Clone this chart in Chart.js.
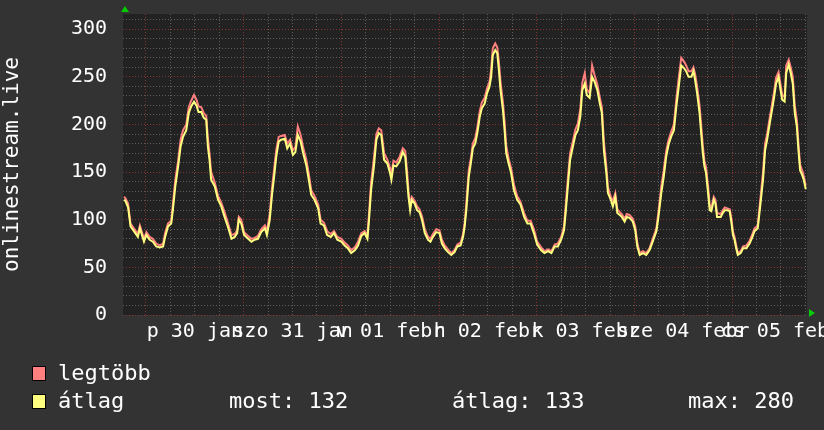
<!DOCTYPE html>
<html><head><meta charset="utf-8">
<script src="https://cdn.jsdelivr.net/npm/chart.js@4"></script>
<style>
html,body{margin:0;padding:0;background:#333333;}
#wrap{position:relative;width:824px;height:430px;overflow:hidden;background:#333333;}
canvas{display:block;}
.lg{position:absolute;font-family:"DejaVu Sans Mono",monospace;font-size:22px;color:#ffffff;line-height:22px;white-space:pre;}
.sw{position:absolute;width:12px;height:13px;border:1px solid #000000;}
</style></head>
<body><div id="wrap"><canvas id="c" width="824" height="430"></canvas>
<div class="sw" style="left:32px;top:366px;background:#ff7f7f"></div>
<div class="lg" id="l1" style="left:58px;top:362px"></div>
<div class="sw" style="left:32px;top:394px;background:#ffff7f"></div>
<div class="lg" id="l2" style="left:58px;top:390px"></div>
<div class="lg" id="s1" style="left:229px;top:390px"></div>
<div class="lg" id="s2" style="left:452px;top:390px"></div>
<div class="lg" id="s3" style="left:688px;top:390px"></div>
</div>
<script>
// time of each sample, hours from Jan 30 00:00
const hours = [-5.4,-5.1,-4.4,-3.8,-2.8,-2.0,-1.5,-1.0,-0.5,0.1,0.9,1.7,2.5,3.4,4.2,4.7,5.4,6.2,6.6,7.2,
7.9,8.5,9.1,9.9,10.5,11.1,11.8,12.4,12.9,13.6,14.2,14.8,15.2,15.6,16.0,16.9,17.7,18.5,19.3,20.1,
21.0,21.8,22.4,22.8,23.4,24.1,25.1,25.9,26.7,27.5,28.3,29.2,29.7,30.4,31.0,31.4,32.0,32.6,33.2,34.1,
34.7,35.4,36.1,36.7,37.3,38.0,38.6,39.4,40.0,40.6,41.4,42.3,42.9,43.7,44.5,45.4,46.2,47.0,48.0,48.8,
49.6,50.4,51.3,52.1,52.9,53.7,54.4,54.8,55.3,56.0,56.6,57.2,57.8,58.5,59.3,59.9,60.3,60.8,61.5,62.3,
63.1,63.7,64.1,64.5,64.9,65.3,66.0,66.6,67.2,67.8,68.5,69.3,69.9,70.5,71.3,72.1,72.7,73.4,74.2,75.0,
75.8,76.5,77.3,77.9,78.3,78.7,79.3,79.8,80.3,80.9,81.4,82.0,82.5,83.2,83.8,84.4,84.8,85.2,85.8,86.3,
86.7,87.1,87.7,88.1,88.5,89.1,89.7,90.4,91.2,92.0,92.9,93.7,94.5,95.3,96.1,97.1,97.9,98.8,99.6,100.4,
101.2,102.0,102.7,103.1,103.7,104.2,104.9,105.5,106.1,106.7,107.2,107.8,108.3,109.0,109.6,110.2,110.9,111.5,112.0,112.5,
113.1,113.5,114.2,114.7,115.3,115.8,116.4,116.9,117.6,118.1,118.8,119.6,120.2,120.7,121.3,122.1,122.9,123.7,124.5,125.4,
125.9,126.6,127.2,127.8,128.4,129.0,129.7,130.3,130.9,131.5,132.2,132.7,133.3,134.0,134.5,134.9,135.4,136.0,136.4,136.8,
137.2,137.6,138.1,138.5,138.9,139.5,139.9,140.3,141.2,141.7,142.2,142.8,143.4,143.8,144.2,144.6,145.0,145.4,146.1,146.7,
147.5,148.3,148.9,149.5,150.3,150.9,151.6,152.1,152.6,153.2,153.8,154.3,154.8,155.4,155.9,156.3,156.9,157.3,157.9,158.4,
158.9,159.4,159.9,160.3,160.7,161.2,161.6,162.1];

// "átlag" (average) series
const avgValues = [121,120,113,93,87,82,91,84,77,84,79,77,72,71,72,82,93,96,110,135,
156,177,187,194,212,219,224,220,213,213,207,205,177,163,142,135,121,114,103,93,
80,82,86,100,96,84,80,77,79,80,87,91,84,100,128,142,166,182,184,185,
175,180,168,171,189,182,170,157,142,126,121,112,96,94,84,82,86,79,77,73,
70,65,68,73,83,86,80,100,131,156,184,191,189,163,159,150,142,157,156,161,
171,166,145,124,110,121,117,110,108,100,86,79,77,82,87,86,75,70,66,63,
66,72,73,82,93,110,145,159,175,180,191,208,217,222,233,240,250,273,278,275,
257,236,215,194,170,159,149,131,121,116,103,96,96,86,74,68,65,67,65,72,
72,79,89,107,138,163,177,189,194,208,236,243,231,228,250,245,236,222,212,173,
149,128,121,114,124,107,105,103,98,103,102,98,89,72,63,65,63,68,77,88,
103,128,145,166,179,187,194,219,240,262,259,256,250,250,256,247,233,212,191,170,
156,149,128,110,109,121,117,103,103,107,110,110,109,98,84,79,70,63,65,70,
70,75,81,88,91,114,142,173,184,200,215,228,243,250,236,226,224,254,263,254,
243,212,198,173,152,147,142,132];

// "legtöbb" (maximum) series
const maxValues = [124,123,117,96,90,85,94,87,80,87,82,80,75,73,75,86,96,99,116,142,
162,184,194,200,218,225,231,226,219,218,212,209,186,170,150,139,125,118,108,97,
84,85,89,103,100,87,83,80,81,83,90,94,88,106,135,150,173,187,188,189,
180,184,173,176,198,189,176,163,148,131,125,116,100,97,88,85,88,82,80,76,
73,68,71,77,86,88,84,107,139,165,190,196,194,170,163,155,148,162,160,166,
175,172,153,130,115,124,120,114,111,104,90,82,80,85,90,89,79,73,69,65,
68,74,76,85,97,117,152,164,180,186,197,214,223,228,238,245,258,280,285,281,
266,245,223,203,178,164,154,137,125,119,107,99,99,90,77,71,67,69,67,74,
75,82,93,114,146,170,183,195,201,216,244,254,237,233,262,252,242,228,218,182,
156,134,124,120,128,111,108,106,101,106,105,101,93,76,65,67,65,70,80,91,
108,135,152,172,184,192,200,227,249,270,266,262,256,256,260,253,240,220,199,178,
162,155,135,115,112,124,121,107,106,110,113,112,111,102,88,82,73,65,67,72,
73,78,84,91,94,120,150,180,190,206,221,234,249,255,242,231,229,262,268,260,
250,220,205,180,158,152,146,136];

const dayLabels = ['p 30 jan','szo 31 jan','v 01 febr','h 02 febr','k 03 febr','sze 04 febr','cs 05 febr'];
const xTickHours = [0,6,12,18,24,30,36,42,48,54,60,66,72,78,84,90,96,102,108,114,120,126,132,138,144,150,156,162];
const yTickValues = [0,10,20,30,40,50,60,70,80,90,100,110,120,130,140,150,160,170,180,190,200,210,220,230,240,250,260,270,280,290,300,310];
const seriesNames = ['legtöbb','átlag'];
const statNames = ['most','átlag','max'];
const statValues = [132,133,280];

const X_MIN = -5.65, X_MAX = 162.4, Y_MAX = 316;
const FONT = '"DejaVu Sans Mono", monospace';
const MAJOR = 'rgba(150,55,55,0.85)';
const MINOR = 'rgba(110,110,110,0.8)';

document.getElementById('l1').textContent = seriesNames[0];
document.getElementById('l2').textContent = seriesNames[1];
document.getElementById('s1').textContent = statNames[0] + ': ' + statValues[0];
document.getElementById('s2').textContent = statNames[1] + ': ' + statValues[1];
document.getElementById('s3').textContent = statNames[2] + ': ' + statValues[2];

const bgPlugin = {
  id: 'bg',
  beforeDraw(chart) {
    const {ctx, chartArea: a} = chart;
    ctx.save();
    ctx.fillStyle = '#333333';
    ctx.fillRect(0, 0, chart.width, chart.height);
    ctx.fillStyle = '#222222';
    ctx.fillRect(a.left, a.top, a.right - a.left, a.bottom - a.top);
    ctx.restore();
  },
  afterDraw(chart) {
    const {ctx, chartArea: a} = chart;
    ctx.save();
    ctx.fillStyle = '#00cc00';
    ctx.beginPath();
    ctx.moveTo(a.left - 2, a.top - 2);
    ctx.lineTo(a.left + 6, a.top - 2);
    ctx.lineTo(a.left + 2, a.top - 8);
    ctx.closePath(); ctx.fill();
    ctx.beginPath();
    ctx.moveTo(a.right + 2, a.bottom - 6);
    ctx.lineTo(a.right + 2, a.bottom + 2);
    ctx.lineTo(a.right + 8, a.bottom - 2);
    ctx.closePath(); ctx.fill();
    ctx.restore();
  }
};

new Chart(document.getElementById('c'), {
  type: 'line',
  data: {
    datasets: [
      { label: seriesNames[1], data: hours.map((h, i) => ({x: h, y: avgValues[i]})),
        borderColor: '#ffff7f', borderWidth: 2 },
      { label: seriesNames[0], data: hours.map((h, i) => ({x: h, y: maxValues[i]})),
        borderColor: '#ff7f7f', borderWidth: 2 }
    ]
  },
  options: {
    responsive: false, animation: false, devicePixelRatio: 1,
    layout: {padding: {left: 0, right: 17, top: 14, bottom: 0}},
    plugins: {legend: {display: false}, tooltip: {enabled: false}},
    elements: {point: {radius: 0}, line: {tension: 0}},
    scales: {
      x: {
        type: 'linear', min: X_MIN, max: X_MAX,
        afterBuildTicks: s => { s.ticks = xTickHours.map(v => ({value: v})); },
        afterFit: s => { s.height = 115; s.paddingLeft = 0; s.paddingRight = 0; },
        grid: {color: c => (c.tick && c.tick.value % 24 === 0) ? MAJOR : MINOR, drawTicks: false, lineWidth: 1},
        border: {display: false, dash: [1, 2]},
        ticks: {autoSkip: false, maxRotation: 0, minRotation: 0, padding: 5, color: '#ffffff',
          font: {family: FONT, size: 20},
          callback: v => (v % 24 === 12) ? dayLabels[Math.floor(v / 24)] : ''}
      },
      y: {
        min: 0, max: Y_MAX,
        afterBuildTicks: s => { s.ticks = yTickValues.map(v => ({value: v})); },
        afterFit: s => { s.width = 123; s.paddingTop = 0; s.paddingBottom = 0; },
        grid: {color: c => (c.tick && c.tick.value % 50 === 0) ? MAJOR : MINOR, drawTicks: false, lineWidth: 1},
        border: {display: false, dash: [1, 2]},
        ticks: {autoSkip: false, padding: 16, color: '#ffffff', font: {family: FONT, size: 20},
          callback: v => (v % 50 === 0) ? String(v) : ''},
        title: {display: true, text: 'onlinestream.live', color: '#ffffff', padding: 0,
          font: {family: FONT, size: 21}}
      }
    }
  },
  plugins: [bgPlugin]
});
</script>
</body></html>
